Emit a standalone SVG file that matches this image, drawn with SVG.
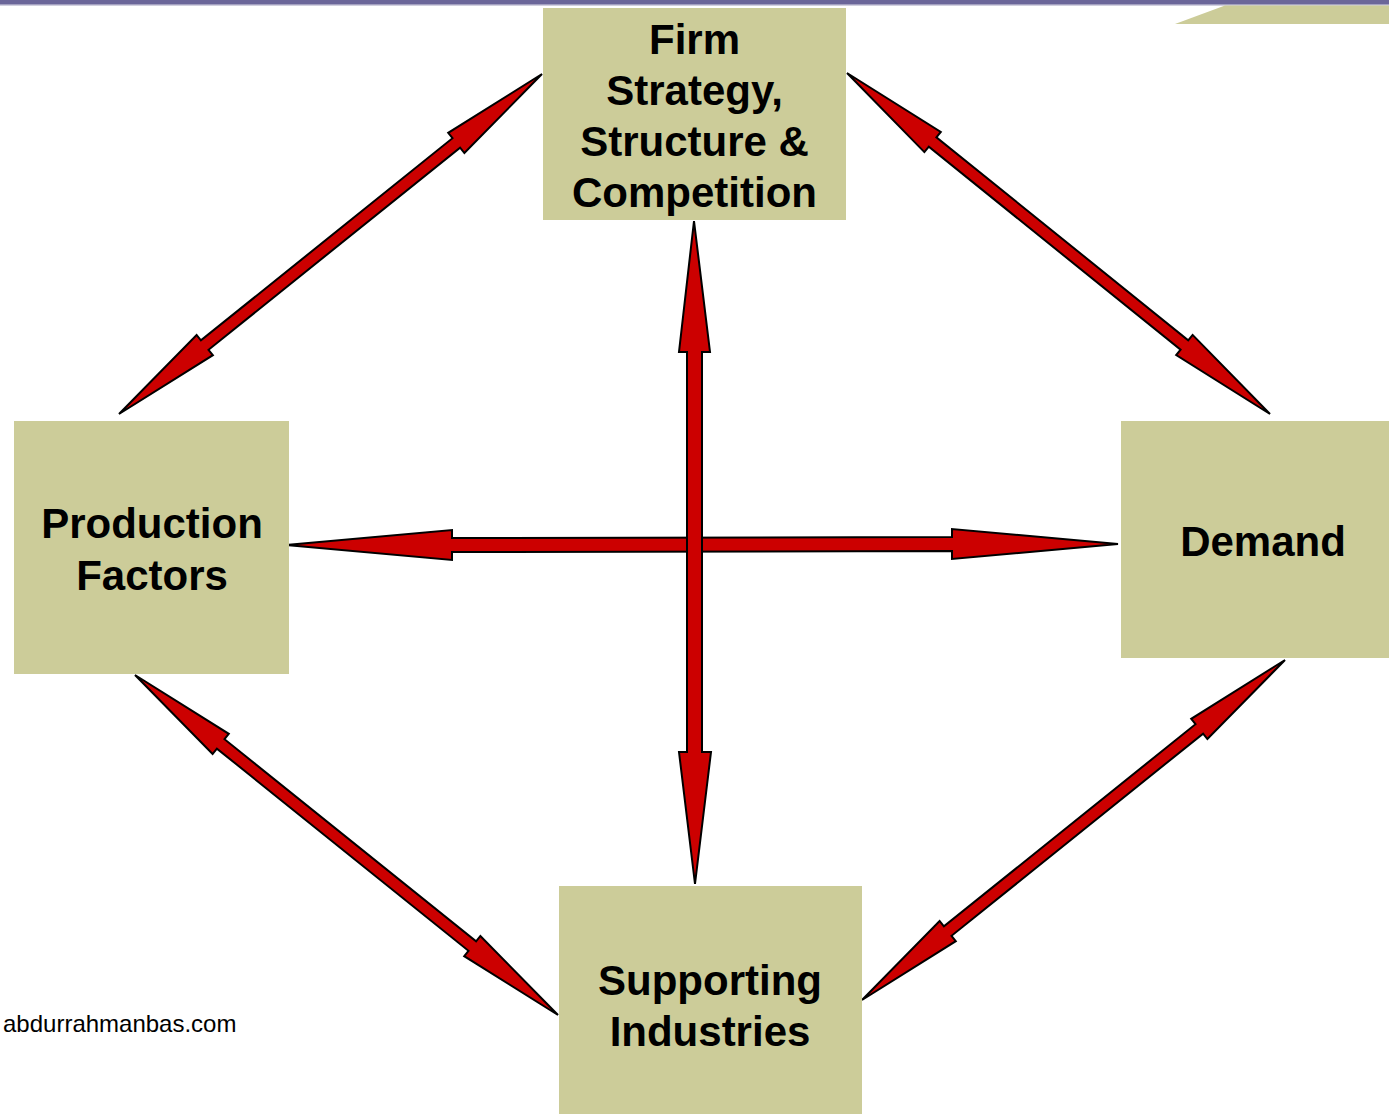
<svg xmlns="http://www.w3.org/2000/svg" width="1389" height="1114" viewBox="0 0 1389 1114">
<style>
.box{fill:#cccc99}
.lbl{font-family:"Liberation Sans",Arial,sans-serif;font-weight:bold;font-size:42px;fill:#000;text-anchor:middle}
.arr{fill:#cc0000;stroke:#000;stroke-width:2;stroke-linejoin:miter}
.wm{font-family:"Liberation Sans",Arial,sans-serif;font-size:24px;fill:#000}
</style>
<rect x="0" y="0" width="1389" height="1114" fill="#ffffff"/>
<rect x="0" y="0" width="1389" height="4" fill="#6b6699"/>
<rect x="0" y="4" width="1389" height="1.5" fill="#a3a0c0"/>
<polygon points="1175,24 1225,5.5 1389,5.5 1389,24" fill="#cccc99"/>
<g id="connectors">
<polygon class="arr" points="286,545 452,530 452,538 952,537 952,529 1118,544 952,559 952,551 452,552 452,560"/>
<polygon class="arr" points="694,221 710,352 702,352 702,752 711,752 695,884 679,752 687,752 687,352 679,352"/>
<polygon class="arr" points="119,414 212.9,355.2 208.5,349.8 460.1,147.6 464.4,153.0 542,74 448.2,132.8 452.5,138.2 200.9,340.4 196.6,335.0"/>
<polygon class="arr" points="847,73 924.4,152.1 928.8,146.7 1180.6,349.7 1176.2,355.1 1270,414 1192.6,334.9 1188.2,340.3 936.4,137.3 940.8,131.9"/>
<polygon class="arr" points="135,675 212.6,754.0 216.9,748.6 468.5,950.8 464.2,956.2 558,1015 480.4,936.0 476.1,941.4 224.5,739.2 228.8,733.8"/>
<polygon class="arr" points="862,1000 955.8,941.2 951.5,935.8 1203.1,733.6 1207.4,739.0 1285,660 1191.2,718.8 1195.5,724.2 943.9,926.4 939.6,921.0"/>
</g>
<g id="firm">
<rect class="box" x="543" y="8" width="303" height="212"/>
<text class="lbl" x="694.5" y="54">Firm</text>
<text class="lbl" x="694.5" y="105">Strategy,</text>
<text class="lbl" x="694.5" y="156">Structure &amp;</text>
<text class="lbl" x="694.5" y="207">Competition</text>
</g>
<g id="production">
<rect class="box" x="14" y="421" width="275" height="253"/>
<text class="lbl" x="152" y="538">Production</text>
<text class="lbl" x="152" y="590">Factors</text>
</g>
<g id="demand">
<rect class="box" x="1121" y="421" width="268" height="237"/>
<text class="lbl" x="1263" y="556">Demand</text>
</g>
<g id="supporting">
<rect class="box" x="559" y="886" width="303" height="228"/>
<text class="lbl" x="710" y="995">Supporting</text>
<text class="lbl" x="710" y="1046">Industries</text>
</g>
<text class="wm" x="3" y="1032">abdurrahmanbas.com</text>
</svg>
